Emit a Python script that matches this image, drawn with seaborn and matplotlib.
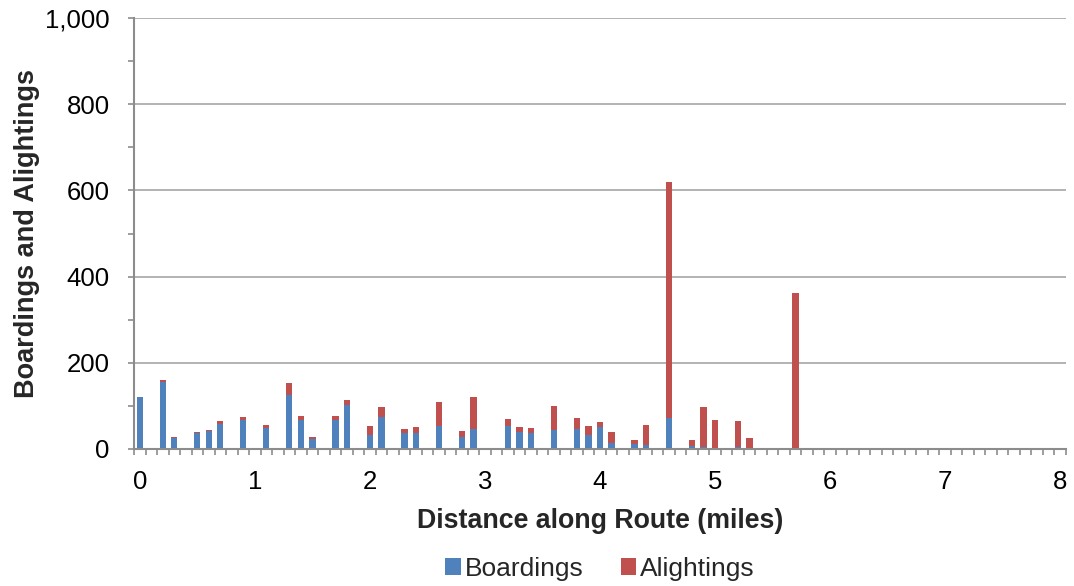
import numpy as np
import pandas as pd
import matplotlib
matplotlib.use("Agg")
import matplotlib.pyplot as plt
from matplotlib.patches import Patch
from matplotlib.ticker import FixedLocator, FuncFormatter
import seaborn as sns

# Stop locations along the route (miles) and passenger activity at each stop
distance_mi = [0.0, 0.2, 0.3, 0.5, 0.6, 0.7, 0.9, 1.1, 1.3, 1.4,
               1.5, 1.7, 1.8, 2.0, 2.1, 2.3, 2.4, 2.6, 2.8, 2.9,
               3.2, 3.3, 3.4, 3.6, 3.8, 3.9, 4.0, 4.1, 4.3, 4.4,
               4.6, 4.8, 4.9, 5.0, 5.2, 5.3, 5.7]
boardings = [120, 156, 25, 36, 41, 57, 67, 49, 126, 68,
             24, 67, 101, 32, 75, 36, 36, 54, 28, 46,
             54, 39, 36, 45, 46, 32, 50, 14, 12, 10,
             73, 8, 5, 1, 4, 1, 0]
alightings = [0, 4, 3, 4, 3, 7, 8, 6, 26, 9,
              3, 9, 12, 21, 22, 10, 15, 54, 14, 75,
              16, 12, 13, 55, 27, 21, 13, 25, 10, 45,
              547, 14, 92, 66, 62, 24, 361]

series_names = ["Boardings", "Alightings"]
blue = "#4F81BD"
red = "#C0504D"
axis_gray = "#8C8C8C"

df = pd.DataFrame({
    "distance": distance_mi,
    "Boardings": boardings,
    "Alightings": alightings,
})
df["total"] = df["Boardings"] + df["Alightings"]

sns.set_theme(style="white")
plt.rcParams["font.family"] = ["Liberation Sans", "DejaVu Sans"]

fig = plt.figure(figsize=(10.74, 5.86), dpi=100)
ax = fig.add_axes([134 / 1074, 1 - 449 / 586, (1066 - 134) / 1074, (449 - 18) / 586])

# Stacked bars: full height in red, boardings overlaid in blue from zero
sns.barplot(data=df, x="distance", y="total", native_scale=True, color=red,
            saturation=1, width=0.55, errorbar=None, linewidth=0, ax=ax, zorder=3)
sns.barplot(data=df, x="distance", y="Boardings", native_scale=True, color=blue,
            saturation=1, width=0.55, errorbar=None, linewidth=0, ax=ax, zorder=4)

ax.set_xlim(-0.05, 8.05)
ax.set_ylim(0, 1000)

# y axis
ax.set_yticks(np.arange(0, 1001, 200))
ax.yaxis.set_minor_locator(FixedLocator(np.arange(100, 1000, 200)))
ax.yaxis.set_major_formatter(FuncFormatter(lambda v, p: f"{int(v):,}"))
ax.grid(axis="y", which="major", color="#A6A6A6", linewidth=1.2, zorder=0)
ax.grid(axis="x", visible=False)

# x axis: labels at whole miles, tick marks between 0.1-mile slots
ax.set_xticks(np.arange(0, 9, 1))
ax.xaxis.set_major_formatter(FuncFormatter(lambda v, p: f"{int(round(v))}"))
ax.xaxis.set_minor_locator(FixedLocator(np.arange(-0.05, 8.06, 0.1)))

ax.tick_params(axis="x", which="major", length=0, pad=15, labelsize=18.5, colors="black")
ax.tick_params(axis="x", which="minor", length=4.5, width=1.2, color=axis_gray, direction="out")
ax.tick_params(axis="y", which="both", length=4.5, width=1.2, color=axis_gray, direction="out",
               labelsize=18.5, labelcolor="black", pad=13)
ax.xaxis.set_ticks_position("bottom")
ax.yaxis.set_ticks_position("left")

for side in ["top", "right"]:
    ax.spines[side].set_visible(False)
for side in ["left", "bottom"]:
    ax.spines[side].set_color(axis_gray)
    ax.spines[side].set_linewidth(1.5)
    ax.spines[side].set_zorder(5)

ax.set_xlabel("Distance along Route (miles)", fontsize=19.3, fontweight="bold", labelpad=10)
ax.set_ylabel("Boardings and Alightings", fontsize=19.5, fontweight="bold", labelpad=4)

handles = [Patch(facecolor=blue, edgecolor="none"), Patch(facecolor=red, edgecolor="none")]
fig.legend(handles, series_names, loc="center", bbox_to_anchor=(600 / 1074, 1 - 569 / 586),
           ncol=2, frameon=False, fontsize=19, handlelength=0.6, handleheight=0.6,
           handletextpad=0.15, columnspacing=1.4)

fig.savefig("out.png", dpi=100)
